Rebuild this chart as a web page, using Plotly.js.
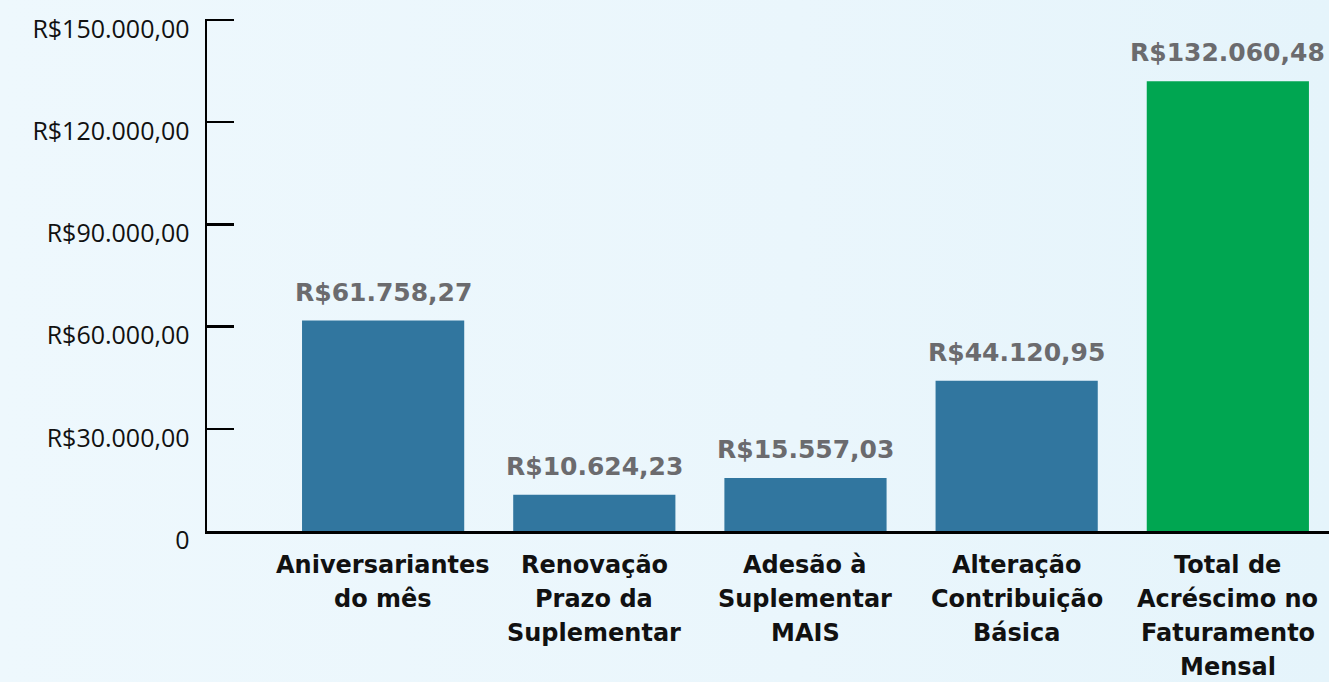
<!DOCTYPE html>
<html>
<head>
<meta charset="utf-8">
<script src="https://cdn.plot.ly/plotly-3.0.1.min.js"></script>
<style>
html,body{margin:0;padding:0;width:1329px;height:682px;overflow:hidden;
background:linear-gradient(90deg,#eef8fd 0%,#eaf6fc 60%,#e5f4fb 100%);}
#chart{width:1329px;height:682px;}
</style>
</head>
<body>
<div id="chart"></div>
<script>
const categories = [
  "Aniversariantes do mês",
  "Renovação Prazo da Suplementar",
  "Adesão à Suplementar MAIS",
  "Alteração Contribuição Básica",
  "Total de Acréscimo no Faturamento Mensal"
];
const labelLines = [
  ["Aniversariantes", "do mês"],
  ["Renovação", "Prazo da", "Suplementar"],
  ["Adesão à", "Suplementar", "MAIS"],
  ["Alteração", "Contribuição", "Básica"],
  ["Total de", "Acréscimo no", "Faturamento", "Mensal"]
];
const values = [61758.27, 10624.23, 15557.03, 44120.95, 132060.48];
const barColors = ["#31769f", "#31769f", "#31769f", "#31769f", "#00a651"];
const tickValues = [0, 30000, 60000, 90000, 120000, 150000];
const tickLabels = ["0", "R$30.000,00", "R$60.000,00", "R$90.000,00", "R$120.000,00", "R$150.000,00"];

function brl(v) {
  const s = v.toFixed(2).split(".");
  const intPart = s[0].replace(/\B(?=(\d{3})+(?!\d))/g, ".");
  return "R$" + intPart + "," + s[1];
}

const annotations = [];
categories.forEach((c, i) => {
  annotations.push({
    x: c, y: values[i], xref: "x", yref: "y",
    text: brl(values[i]), showarrow: false,
    yanchor: "bottom", yshift: 12,
    font: {family: "DejaVu Sans", size: 25, color: "#6b6b6e", weight: "bold"}
  });
  labelLines[i].forEach((ln, j) => {
    annotations.push({
      x: c, y: 0, xref: "x", yref: "y",
      text: "<b>" + ln + "</b>", showarrow: false,
      yanchor: "middle", yshift: -(34 + j * 34),
      font: {family: "DejaVu Sans", size: 24, color: "#111111"}
    });
  });
});

const trace = {
  type: "bar",
  x: categories,
  y: values,
  marker: {color: barColors},
  hoverinfo: "none"
};

const layout = {
  width: 1329, height: 682,
  margin: {l: 207, r: 0, t: 19, b: 151, pad: 0},
  paper_bgcolor: "rgba(0,0,0,0)",
  plot_bgcolor: "rgba(0,0,0,0)",
  bargap: 0.232,
  showlegend: false,
  xaxis: {
    type: "category",
    range: [-0.834, 4.479],
    showticklabels: false,
    ticks: "",
    showgrid: false,
    zeroline: false,
    showline: true, linecolor: "#000000", linewidth: 2.5
  },
  yaxis: {
    range: [0, 150300],
    tickvals: tickValues, ticktext: tickLabels,
    ticks: "inside", ticklen: 27, tickwidth: 2.5, tickcolor: "#000000",
    showgrid: false, zeroline: false,
    showline: true, linecolor: "#000000", linewidth: 2.5,
    ticklabelshift: 9,
    ticklabelstandoff: 10,
    tickfont: {family: "Open Sans", size: 25, color: "#111111"}
  },
  annotations: annotations
};

Plotly.newPlot("chart", [trace], layout, {displayModeBar: false, staticPlot: true});
</script>
</body>
</html>
